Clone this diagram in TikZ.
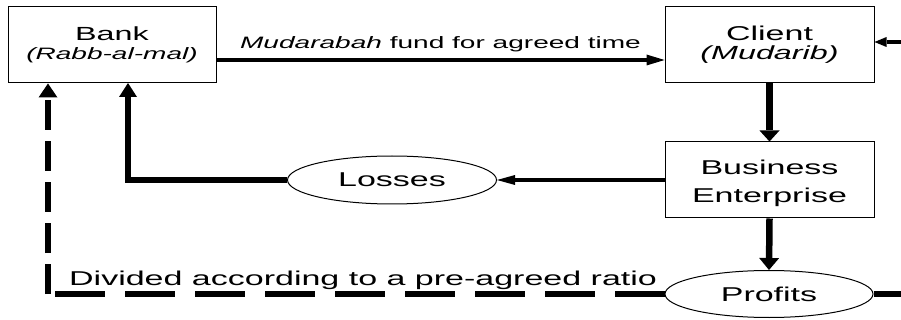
\documentclass[tikz,border=0pt]{standalone}
\usepackage{fontspec}
\setmainfont[FakeStretch=1.7]{Liberation Sans}
\usetikzlibrary{arrows.meta,shapes.geometric,calc}
\begin{document}
\begin{tikzpicture}[x=1pt,y=-1pt,
  box/.style={draw, line width=1pt, minimum width=208pt, minimum height=76pt, inner sep=0pt, align=center},
  oval/.style={draw, ellipse, line width=1pt, minimum width=209pt, minimum height=48pt, inner sep=0pt, font=\fontsize{20}{24}\selectfont},
  heavy/.style={line width=6.5pt},
  medium/.style={line width=4pt},
  dashedlink/.style={line width=6pt},
]
\fill[white] (0,0) rectangle (901,320);
\useasboundingbox (0,0) rectangle (901,320);

% nodes
\node[box, font=\fontsize{19}{19}\selectfont] (bank) at (112,45)
  {Bank\\{\fontsize{16.5}{19}\selectfont\itshape (Rabb-al-mal)}};
\node[box, minimum width=209pt, font=\fontsize{20}{19}\selectfont] (client) at (769.5,45)
  {Client\\{\fontsize{19}{19}\selectfont\itshape (Mudarib)}};
\node[box, minimum width=209pt, font=\fontsize{20}{28}\selectfont] (business) at (769.5,180)
  {\rule{0pt}{22pt}Business\\Enterprise};
\node[oval] (losses) at (392,180) {Losses};
\node[oval, minimum width=208pt, minimum height=47pt] (profits) at (769,294) {Profits};
\node[anchor=base west, inner sep=0pt, font=\fontsize{20}{24}\selectfont] (ratio) at (69,285.7)
  {Divided according to a pre-agreed ratio};

% helper coordinates
\coordinate (rin) at (901,42);
\coordinate (rout) at (901,294);
\coordinate (lcorner) at (128,83);
\coordinate (dcorner) at (48,294);

% connectors
\draw[medium, -{Triangle[length=18pt,width=11pt,line width=0pt]}]
  ([yshift=-15pt]bank.east) -- node[anchor=base, yshift=11.7pt, inner sep=0pt, font=\fontsize{16.5}{20}\selectfont] (fund)
  {\itshape Mudarabah\upshape{} fund for agreed time} ([yshift=-15pt]client.west);
\draw[medium, -{Triangle[length=12pt,width=10pt,line width=0pt]}] (rin) -- (client.east |- rin);
\draw[heavy, -{Triangle[length=11pt,width=20pt,line width=0pt]}] (client.south) -- (business.north);
\draw[medium, -{Triangle[length=18pt,width=10pt,line width=0pt]}] (business.west) -- (losses.east);
\draw[line width=5.5pt, -{Triangle[length=14pt,width=18pt,line width=0pt]}] (losses.west) -| (lcorner);
\draw[heavy, -{Triangle[length=12pt,width=20pt,line width=0pt]}] (business.south) -- (profits.north);
\draw[heavy] (profits.east) -- (rout);
\draw[dashedlink, dash pattern=on 50pt off 20pt] (profits.west) -- (dcorner);
\draw[dashedlink, dash pattern=on 30pt off 11pt, -{Triangle[length=14pt,width=19pt,line width=0pt]}]
  (dcorner) -- (dcorner |- bank.south);
\end{tikzpicture}
\end{document}
